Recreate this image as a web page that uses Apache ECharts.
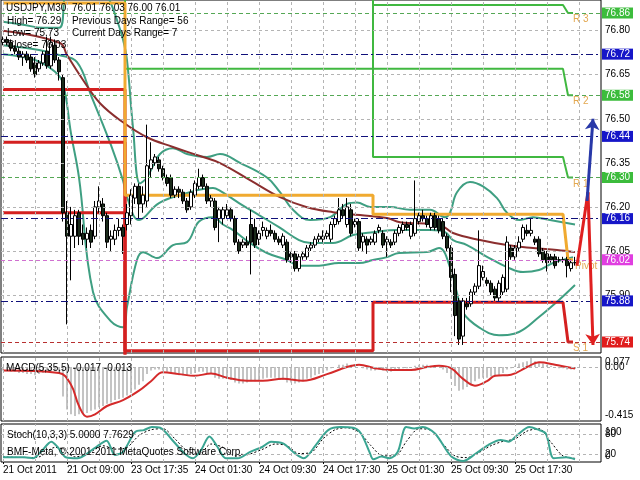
<!DOCTYPE html>
<html><head><meta charset="utf-8">
<script src="https://cdn.jsdelivr.net/npm/echarts@6/dist/echarts.min.js"></script>
<style>html,body{margin:0;padding:0;background:#fff}#c{width:640px;height:480px}</style>
</head><body><div id="c"></div>
<script>
// ---------- DATA ----------
const tickLabels = ['21 Oct 2011','21 Oct 09:00','23 Oct 17:35','24 Oct 01:30','24 Oct 09:30','24 Oct 17:30','25 Oct 01:30','25 Oct 09:30','25 Oct 17:30'];
// [open, high, low, close] per 30-minute bar
const ohlc = [
[76.76,76.78,76.75,76.77],[76.77,76.78,76.75,76.76],[76.76,76.77,76.73,76.74],[76.74,76.75,76.72,76.73],
[76.73,76.74,76.70,76.71],[76.71,76.73,76.68,76.72],[76.72,76.73,76.69,76.70],[76.71,76.72,76.66,76.67],
[76.69,76.71,76.64,76.65],[76.67,76.70,76.66,76.69],[76.69,76.73,76.68,76.72],[76.73,76.78,76.67,76.68],
[76.68,76.78,76.67,76.76],[76.75,76.77,76.69,76.70],[76.70,76.71,76.63,76.66],[76.64,76.65,76.15,76.18],
[76.18,76.22,75.80,76.10],[76.10,76.20,75.95,76.14],[76.10,76.19,76.06,76.17],[76.18,76.19,76.07,76.10],
[76.11,76.14,76.07,76.09],[76.09,76.13,76.06,76.11],[76.12,76.14,76.06,76.08],[76.10,76.22,76.09,76.20],
[76.20,76.27,76.18,76.22],[76.21,76.23,76.15,76.17],[76.17,76.18,76.06,76.08],[76.09,76.12,76.05,76.10],
[76.09,76.14,76.07,76.12],[76.12,76.16,76.10,76.13],[76.13,76.14,76.04,76.10],[76.14,76.21,76.12,76.18],
[76.17,76.26,76.14,76.24],[76.23,76.28,76.21,76.27],[76.27,76.28,76.16,76.21],[76.21,76.27,76.18,76.24],
[76.22,76.48,76.20,76.34],[76.33,76.42,76.30,76.36],[76.35,76.38,76.34,76.37],[76.36,76.37,76.32,76.33],
[76.33,76.34,76.29,76.30],[76.30,76.31,76.27,76.28],[76.30,76.31,76.23,76.24],[76.24,76.27,76.23,76.26],
[76.26,76.27,76.23,76.25],[76.25,76.26,76.21,76.22],[76.22,76.23,76.18,76.19],[76.20,76.26,76.19,76.25],
[76.24,76.29,76.23,76.28],[76.27,76.33,76.26,76.30],[76.30,76.31,76.26,76.27],[76.27,76.28,76.21,76.22],
[76.22,76.24,76.20,76.23],[76.22,76.23,76.12,76.13],[76.16,76.20,76.08,76.19],[76.16,76.20,76.14,76.19],
[76.17,76.21,76.16,76.19],[76.19,76.20,76.15,76.16],[76.16,76.17,76.07,76.08],[76.08,76.09,76.04,76.05],
[76.07,76.09,76.06,76.08],[76.08,76.10,76.06,76.07],[76.14,76.19,75.97,76.08],[76.13,76.16,76.06,76.07],
[76.09,76.12,76.07,76.11],[76.12,76.15,76.10,76.13],[76.10,76.13,76.09,76.12],[76.12,76.14,76.10,76.11],
[76.11,76.12,76.08,76.09],[76.09,76.10,76.07,76.08],[76.07,76.11,76.06,76.10],[76.08,76.09,76.01,76.02],
[76.04,76.05,76.01,76.03],[76.04,76.05,75.98,75.99],[75.99,76.04,75.98,76.03],[76.03,76.05,76.02,76.04],
[76.03,76.07,76.02,76.06],[76.06,76.08,76.05,76.07],[76.07,76.10,76.06,76.09],[76.09,76.11,76.08,76.10],
[76.09,76.12,76.08,76.10],[76.10,76.12,76.09,76.11],[76.09,76.15,76.08,76.14],[76.14,76.17,76.13,76.16],
[76.15,76.23,76.14,76.19],[76.19,76.21,76.16,76.17],[76.14,76.23,76.13,76.20],[76.19,76.21,76.10,76.11],
[76.14,76.16,76.13,76.15],[76.15,76.16,76.05,76.06],[76.08,76.11,76.05,76.10],[76.09,76.10,76.04,76.07],
[76.08,76.10,76.07,76.09],[76.08,76.12,76.07,76.11],[76.12,76.14,76.11,76.13],[76.11,76.12,76.06,76.07],
[76.08,76.10,76.03,76.09],[76.08,76.09,76.06,76.07],[76.08,76.12,76.07,76.11],[76.11,76.14,76.10,76.13],
[76.12,76.15,76.11,76.14],[76.14,76.15,76.12,76.13],[76.10,76.15,76.09,76.14],[76.11,76.29,76.10,76.16],
[76.15,76.18,76.14,76.17],[76.17,76.19,76.15,76.16],[76.16,76.17,76.13,76.14],[76.13,76.18,76.12,76.17],
[76.17,76.18,76.12,76.13],[76.16,76.17,76.11,76.12],[76.15,76.16,76.09,76.10],[76.10,76.11,76.05,76.06],
[76.06,76.07,75.91,75.96],[75.97,75.99,75.76,75.83],[75.88,75.89,75.73,75.75],[75.76,75.89,75.73,75.88],
[75.87,75.89,75.85,75.86],[75.87,75.92,75.86,75.91],[75.91,75.94,75.90,75.93],[75.93,76.12,75.92,76.00],
[75.96,76.00,75.95,75.98],[75.95,75.96,75.93,75.94],[75.94,75.95,75.90,75.91],[75.92,75.93,75.88,75.89],
[75.89,75.95,75.88,75.94],[75.91,75.97,75.90,75.96],[75.92,76.10,75.91,76.08],[76.06,76.07,76.02,76.03],
[76.03,76.07,76.02,76.06],[76.06,76.10,76.05,76.08],[76.09,76.14,76.08,76.13],[76.12,76.14,76.10,76.11],
[76.11,76.16,76.10,76.12],[76.09,76.10,76.07,76.08],[76.09,76.10,76.03,76.04],[76.05,76.06,76.01,76.02],
[76.04,76.05,75.98,76.01],[76.03,76.04,76.01,76.02],[76.03,76.04,75.99,76.00],[76.02,76.03,76.01,76.02],
[76.02,76.03,76.01,76.02],[76.02,76.03,75.96,76.00],[75.99,76.02,75.98,76.01],[76.01,76.03,76.00,76.01]
];
// Bollinger bands and moving average, read as [bar, price]
const bbUpper = [[0,76.83],[5,76.82],[10,76.81],[14,76.81],[16,76.95],[20,77.0],[24,76.97],[26.75,76.90],[28.5,76.836],[30,76.77],[31,76.70],[32.5,76.47],[34.25,76.28],[36,76.30],[39.25,76.38],[42.5,76.40],[46,76.38],[51,76.37],[54.25,76.38],[59.25,76.35],[66,76.30],[69.25,76.25],[72.5,76.19],[76.75,76.155],[81.75,76.165],[86,76.21],[88.5,76.215],[91.75,76.20],[96.75,76.20],[101.75,76.19],[106.75,76.19],[110.5,76.165],[111.75,76.18],[113.5,76.25],[116.75,76.285],[120,76.27],[123.5,76.23],[126,76.18],[129.25,76.155],[132.5,76.165],[136.75,76.155],[143,76.14]];
const bbMiddle = [[0,76.75],[9,76.734],[14,76.717],[18.5,76.693],[22,76.58],[27,76.41],[30,76.29],[31,76.233],[34,76.155],[39,76.213],[46,76.247],[52.5,76.264],[54,76.257],[59,76.213],[64,76.172],[69,76.131],[74,76.087],[77,76.077],[82.5,76.077],[87.5,76.104],[92.5,76.114],[99,76.121],[107,76.121],[110.5,76.114],[112.5,76.087],[116,76.07],[121,76.03],[126,75.995],[130,75.978],[134,75.985],[137.5,76.009],[142.5,76.029]];
const bbLower = [[0,76.72],[8,76.70],[13,76.66],[15,76.62],[17,76.45],[19,76.30],[22.5,75.91],[27,75.81],[30,75.79],[31,75.86],[33.5,76.02],[35,76.046],[38.5,76.026],[42.5,76.07],[46,76.08],[49,76.15],[52.5,76.165],[55,76.14],[57.5,76.121],[61.75,76.077],[66,76.043],[71,76.019],[74,76.0],[79,76.0],[84,76.009],[89,76.009],[92.5,76.019],[96,76.029],[99,76.043],[106,76.046],[109,76.06],[112,75.985],[113.5,75.907],[115,75.84],[119,75.79],[124,75.763],[129,75.774],[134,75.825],[139,75.883],[143,75.934]];
const maLine = [[0,76.80],[14.25,76.758],[16,76.717],[20,76.632],[24.25,76.553],[30,76.488],[36,76.437],[42.5,76.404],[49.25,76.373],[54.25,76.349],[61.75,76.291],[69.25,76.233],[76,76.199],[82.5,76.182],[89.25,76.172],[96,76.162],[99.25,76.148],[109.25,76.138],[112.5,76.111],[119.25,76.087],[126,76.07],[132.5,76.06],[138.5,76.053],[143,76.046]];
// daily pivot levels as [bar, price]
const pivotP  = [[0,76.894],[30.5,76.894],[30.5,76.24],[92.5,76.24],[92.5,76.175],[140,76.175],[141.25,76.02],[142.5,76.02]];
const pivotR1 = [[30.5,77.07],[30.5,76.67],[92.5,76.67],[92.5,76.37],[140,76.37],[141.25,76.30],[142.5,76.30]];
const pivotR2 = [[92.5,77.2],[92.5,76.67],[140,76.67],[141.25,76.58],[142.5,76.58]];
const pivotR3 = [[92.5,77.5],[92.5,76.887],[140,76.887],[141.25,76.86],[142.5,76.86]];
const pivotS1 = [[0,76.60],[30.5,76.60],[30.5,75.71],[92.5,75.71],[92.5,75.875],[140,75.875],[141.25,75.74],[142.5,75.74]];
const pivotS2 = [[0,76.42],[30.5,76.42],[30.5,75.3]];
const pivotS3 = [[0,76.18],[30.5,76.18],[30.5,75.0]];
const blueArrow = [[146,76.22],[147.5,76.50]];
const redArrow = [[143.5,76.00],[146.25,76.25],[147.5,75.73]];
// right-axis levels
const levelValues = [76.86,76.72,76.58,76.44,76.30,76.16,76.02,75.88,75.74];
const levelKinds  = ['R','M','R','M','R','M','P','M','S'];
const priceTicks  = [76.80,76.65,76.50,76.35,76.20,76.05,75.90];
// MACD(5,35,5)
const macdHist = [-0.03,-0.03,-0.04,-0.04,-0.05,-0.05,-0.06,-0.06,-0.07,-0.06,-0.05,-0.04,-0.03,-0.03,-0.05,
-0.25,-0.36,-0.40,-0.415,-0.40,-0.40,-0.39,-0.37,-0.36,-0.34,-0.33,-0.31,-0.30,-0.28,-0.27,-0.26,-0.24,-0.22,-0.19,-0.15,
-0.12,-0.06,-0.03,-0.02,-0.02,-0.03,-0.04,-0.05,-0.06,-0.07,-0.07,-0.07,-0.06,-0.05,-0.04,-0.04,-0.05,-0.06,-0.09,-0.10,
-0.10,-0.10,-0.11,-0.13,-0.14,-0.14,-0.13,-0.12,-0.12,-0.11,-0.10,-0.09,-0.09,-0.09,-0.10,-0.11,-0.13,-0.13,-0.14,-0.13,
-0.12,-0.10,-0.09,-0.07,-0.06,-0.05,-0.03,-0.01,0.0,0.02,0.02,0.03,0.02,0.02,0.0,-0.01,-0.02,-0.03,-0.03,-0.02,
-0.03,-0.04,-0.04,-0.03,-0.02,-0.01,-0.01,0.0,0.01,0.02,0.02,0.02,0.01,0.01,0.0,-0.02,-0.05,-0.10,-0.16,-0.20,
-0.19,-0.17,-0.15,-0.12,-0.10,-0.09,-0.09,-0.08,-0.08,-0.07,-0.05,-0.02,-0.01,0.01,0.03,0.04,0.05,0.077,0.05,0.04,
0.03,0.02,0.01,0.0,-0.01,-0.01,-0.02,-0.02,-0.017];
const macdSignal = [[0,-0.03],[14,-0.05],[17,-0.15],[19,-0.33],[21,-0.42],[23,-0.40],[26,-0.33],[30,-0.28],[34,-0.20],[37,-0.12],[40,-0.045],[44,-0.06],[48,-0.074],[52,-0.055],[56,-0.09],[61,-0.116],[65,-0.116],[70,-0.10],[75,-0.116],[81,-0.06],[86,0.0],[89,0.02],[93,-0.01],[97,-0.025],[102,-0.025],[106,0.0],[109,0.011],[112,-0.01],[115,-0.10],[118,-0.158],[121,-0.12],[123,-0.074],[127,-0.065],[131,0.0],[134,0.04],[138,0.02],[143,-0.013]];
const macdTicks = [0.077,0.0,-0.415];
// Stochastic(10,3,3)
const stochMain = [[0,11],[5.4,11],[7.5,8],[9.5,27],[12.1,57],[13.6,42],[15.7,11],[18.7,8],[22.8,37],[25.9,60],[28,18],[30,27],[33.1,86],[35.2,91],[37.2,100],[39.3,98],[42.3,62],[45.4,22],[47.5,8],[49.5,32],[51.6,72],[53.6,42],[55.7,8],[58.7,8],[61.8,27],[64.9,42],[67,57],[70,52],[73,22],[75.2,8],[78.2,47],[81.3,91],[84.4,100],[87.5,98],[89.5,81],[91.6,27],[92.6,5],[94.6,13],[96.7,8],[98.7,27],[100.8,100],[102.8,96],[104.9,100],[108,81],[112.1,13],[115.1,0],[118.2,22],[121.3,47],[124.4,62],[126.5,57],[128.5,76],[131.6,100],[133.6,93],[135.7,81],[137.7,8],[140.8,11],[143,5]];
const stochSignal = [[0,12],[6,10],[9,12],[13,40],[15,35],[18,12],[21,20],[25,45],[28,35],[31,40],[34,75],[37,92],[40,95],[43,65],[46,30],[49,20],[52,50],[55,40],[58,15],[61,18],[65,35],[68,50],[71,45],[74,22],[77,25],[80,65],[83,92],[86,98],[89,85],[92,45],[95,15],[98,15],[101,60],[104,95],[107,90],[110,50],[113,15],[116,10],[119,25],[122,45],[125,58],[128,65],[131,88],[134,95],[137,55],[140,15],[143,7.76]];
const stochTicks = [100,80,20,0];

// ---------- CHART ----------
const NBARS = 150;
const FONT = 'Liberation Sans, Arial, sans-serif';
const categories = [];
for (let i = 0; i < NBARS; i++) categories.push(i % 16 === 0 && tickLabels[i / 16] ? tickLabels[i / 16] : '');
const candleData = ohlc.map(r => [r[0], r[3], r[2], r[1]]);

const vGrid = [];
for (let b = 0; b < NBARS; b += 8) vGrid.push({ xAxis: b });
const gridDash = { color: '#b4b4b4', type: [3, 3], width: 1 };
const hiddenLine = { color: 'rgba(0,0,0,0)', width: 0 };

const levelStyle = {
  R: { line: '#55a855', bg: '#3cbc3c', type: [4, 3] },
  M: { line: '#10107a', bg: '#1616c8', type: [7, 3, 2, 3] },
  P: { line: '#d070d0', bg: '#e03ee0', type: [4, 3] },
  S: { line: '#b83030', bg: '#e01c1c', type: [4, 3] }
};
const levelLines = levelValues.map((v, i) => {
  const s = levelStyle[levelKinds[i]];
  return { yAxis: v, lineStyle: { color: s.line, type: s.type, width: 1 },
    label: { show: true, position: 'end', distance: 1, formatter: v.toFixed(2), color: '#fff',
      backgroundColor: s.bg, padding: [1, 3, 0, 3], fontSize: 10, fontFamily: FONT } };
});
const tickLines = priceTicks.map(v => ({ yAxis: v, lineStyle: gridDash,
  label: { show: true, position: 'end', distance: 4, formatter: v.toFixed(2), color: '#000', fontSize: 10, fontFamily: FONT } }));

function lineSeries(data, color, width, opts) {
  return Object.assign({ type: 'line', xAxisIndex: 1, yAxisIndex: 0, data: data, showSymbol: false, symbol: 'none',
    lineStyle: { color: color, width: width }, silent: true, z: 2 }, opts || {});
}
function pivotSeries(data, color, width, name, offset) {
  return lineSeries(data, color, width, { z: 3, endLabel: { show: !!name, formatter: name, color: '#e3a850',
    fontSize: 10, fontFamily: FONT, offset: offset || [-8, 7] } });
}
const noSym = ['none', 'none'];
// vertical anchoring of each side label, to mimic the terminal's label placement
function sideLabels(ticks, fmt, dashed, valign) {
  return ticks.map(v => ({ yAxis: v, lineStyle: dashed(v) ? gridDash : hiddenLine,
    label: { show: true, position: 'end', distance: 4, formatter: fmt(v), color: '#000', fontSize: 10, fontFamily: FONT,
      verticalAlign: valign(v) } }));
}

const option = {
  animation: false,
  backgroundColor: '#fff',
  grid: [
    { left: 1, top: 0, width: 600, height: 353, show: true, borderColor: '#000', borderWidth: 1, backgroundColor: '#fff' },
    { left: 1, top: 357, width: 600, height: 64, show: true, borderColor: '#000', borderWidth: 1, backgroundColor: '#fff' },
    { left: 1, top: 424, width: 600, height: 38, show: true, borderColor: '#000', borderWidth: 1, backgroundColor: '#fff' }
  ],
  xAxis: [
    { type: 'category', gridIndex: 0, data: categories, boundaryGap: true, show: false },
    { type: 'value', gridIndex: 0, min: -0.5, max: NBARS - 0.5, show: false },
    { type: 'category', gridIndex: 1, data: categories, boundaryGap: true, show: false },
    { type: 'value', gridIndex: 1, min: -0.5, max: NBARS - 0.5, show: false },
    { type: 'category', gridIndex: 2, data: categories, boundaryGap: true,
      axisLine: { show: false }, splitLine: { show: false },
      axisTick: { show: true, alignWithLabel: true, length: 3, lineStyle: { color: '#000' }, interval: (i, v) => v !== '' },
      axisLabel: { show: true, interval: (i, v) => v !== '', align: 'left', margin: 3, color: '#000', fontSize: 10, fontFamily: FONT } },
    { type: 'value', gridIndex: 2, min: -0.5, max: NBARS - 0.5, show: false }
  ],
  yAxis: [
    { type: 'value', gridIndex: 0, min: 75.7026, max: 76.9043, show: false },
    { type: 'value', gridIndex: 1, min: -0.457, max: 0.085, show: false },
    { type: 'value', gridIndex: 2, min: -3, max: 109, show: false }
  ],
  graphic: [
    { type: 'text', left: 6, top: 3, z: 100, style: { text: 'USDJPY,M30  76.01 76.03 76.00 76.01', font: '10px ' + FONT, fill: '#000' } },
    { type: 'text', left: 7, top: 16, z: 100, style: { text: 'High= 76.29', font: '10px ' + FONT, fill: '#000' } },
    { type: 'text', left: 72, top: 16, z: 100, style: { text: 'Previous Days Range= 56', font: '10px ' + FONT, fill: '#000' } },
    { type: 'text', left: 7, top: 28, z: 100, style: { text: 'Low= 75.73', font: '10px ' + FONT, fill: '#000' } },
    { type: 'text', left: 72, top: 28, z: 100, style: { text: 'Current Days Range= 7', font: '10px ' + FONT, fill: '#000' } },
    { type: 'text', left: 7, top: 40, z: 100, style: { text: 'Close= 76.03', font: '10px ' + FONT, fill: '#000' } },
    { type: 'text', left: 6, top: 363, z: 100, style: { text: 'MACD(5,35,5) -0.017 -0.013', font: '10px ' + FONT, fill: '#000' } },
    { type: 'text', left: 7, top: 430, z: 100, style: { text: 'Stoch(10,3,3) 5.0000 7.7629', font: '10px ' + FONT, fill: '#000' } },
    { type: 'text', left: 7, top: 447, z: 100, style: { text: 'BMF-Meta, \u00a9 2001-2011 MetaQuotes Software Corp.', font: '10px ' + FONT, fill: '#000' } }
  ],
  series: [
    { type: 'line', xAxisIndex: 1, yAxisIndex: 0, data: [], silent: true, z: 1,
      markLine: { silent: true, symbol: noSym, animation: false, label: { show: false }, lineStyle: gridDash, data: vGrid } },
    { type: 'line', xAxisIndex: 1, yAxisIndex: 0, data: [], silent: true, z: 1,
      markLine: { silent: true, symbol: noSym, animation: false, data: tickLines.concat(levelLines) } },
    lineSeries(bbUpper, '#3f9f82', 2, { smooth: 0.4 }),
    lineSeries(bbMiddle, '#3f9f82', 2, { smooth: 0.4 }),
    lineSeries(bbLower, '#3f9f82', 2, { smooth: 0.4 }),
    lineSeries(maLine, '#8b2e2e', 2, { smooth: 0.4 }),
    pivotSeries(pivotR3, '#40b840', 2, 'R 3', [-8, 6]),
    pivotSeries(pivotR2, '#40b840', 2, 'R 2', [-8, 6]),
    pivotSeries(pivotR1, '#40b840', 2, 'R 1', [-8, 7]),
    pivotSeries(pivotS3, '#d42020', 3, ''),
    pivotSeries(pivotS2, '#d42020', 3, ''),
    pivotSeries(pivotS1, '#d42020', 3, 'S 1', [-8, 6]),
    pivotSeries(pivotP, '#f0aa30', 3, 'Pivot', [-6, 6]),
    { type: 'candlestick', xAxisIndex: 0, yAxisIndex: 0, data: candleData, barWidth: 3, z: 4, silent: true,
      itemStyle: { color: '#ffffff', color0: '#1a2a1a', borderColor: '#000', borderColor0: '#000', borderWidth: 1 } },
    { type: 'line', xAxisIndex: 1, yAxisIndex: 0, data: [], silent: true, z: 6,
      markLine: { silent: true, animation: false, label: { show: false }, symbol: ['none', 'arrow'], symbolSize: 11,
        data: [
          [{ coord: redArrow[0], symbol: 'none' }, { coord: redArrow[1], symbol: 'none', lineStyle: { color: '#e02020', width: 3, type: 'solid' } }],
          [{ coord: redArrow[1], symbol: 'none' }, { coord: redArrow[2], symbol: 'arrow', symbolSize: 11, lineStyle: { color: '#e02020', width: 3, type: 'solid' } }],
          [{ coord: blueArrow[0], symbol: 'none' }, { coord: blueArrow[1], symbol: 'arrow', symbolSize: 11, lineStyle: { color: '#2838a8', width: 3, type: 'solid' } }]
        ] } },
    // MACD panel
    { type: 'line', xAxisIndex: 3, yAxisIndex: 1, data: [], silent: true, z: 1,
      markLine: { silent: true, symbol: noSym, animation: false, label: { show: false }, lineStyle: gridDash, data: vGrid } },
    { type: 'bar', xAxisIndex: 2, yAxisIndex: 1, data: macdHist, barWidth: 2, silent: true, z: 2, itemStyle: { color: '#c4c4c4' } },
    { type: 'line', xAxisIndex: 3, yAxisIndex: 1, data: macdSignal, showSymbol: false, symbol: 'none', smooth: 0.4, silent: true, z: 3,
      lineStyle: { color: '#d42a2a', width: 2 },
      markLine: { silent: true, symbol: noSym, animation: false,
        data: sideLabels(macdTicks, v => v === 0 ? '0.00' : String(v), v => v === 0, v => v > 0.05 ? 'top' : 'middle') } },
    // Stoch panel
    { type: 'line', xAxisIndex: 5, yAxisIndex: 2, data: [], silent: true, z: 1,
      markLine: { silent: true, symbol: noSym, animation: false, label: { show: false }, lineStyle: gridDash, data: vGrid } },
    { type: 'line', xAxisIndex: 5, yAxisIndex: 2, data: stochSignal, showSymbol: false, symbol: 'none', smooth: 0.3, silent: true, z: 2,
      lineStyle: { color: '#000', width: 1, type: [2, 2] } },
    { type: 'line', xAxisIndex: 5, yAxisIndex: 2, data: stochMain, showSymbol: false, symbol: 'none', smooth: 0.3, silent: true, z: 3,
      lineStyle: { color: '#3aa592', width: 2 },
      markLine: { silent: true, symbol: noSym, animation: false,
        data: sideLabels(stochTicks, v => String(v), v => v === 80 || v === 20, v => v === 100 ? 'top' : (v === 0 ? 'bottom' : 'middle')) } }
  ]
};
const chart = echarts.init(document.getElementById('c'), null, { renderer: 'canvas' });
chart.setOption(option);
</script></body></html>
